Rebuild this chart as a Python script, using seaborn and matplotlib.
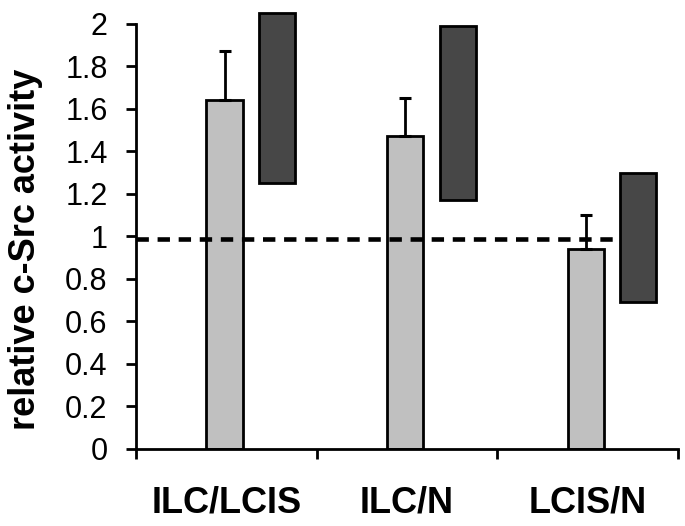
import numpy as np
import pandas as pd
import matplotlib
matplotlib.use("Agg")
import matplotlib.pyplot as plt
import seaborn as sns

# values
categories = ["ILC/LCIS", "ILC/N", "LCIS/N"]
light_mean = [1.64, 1.47, 0.94]
light_err_up = [0.23, 0.18, 0.16]
dark_low = [1.25, 1.17, 0.69]
dark_high = [2.05, 1.99, 1.30]
reference = 0.99
yticks = [0, 0.2, 0.4, 0.6, 0.8, 1, 1.2, 1.4, 1.6, 1.8, 2]

sns.set_theme(style="ticks")
plt.rcParams['font.family'] = ['Liberation Sans', 'DejaVu Sans']

fig, ax = plt.subplots(figsize=(6.85, 5.26), dpi=100)
fig.subplots_adjust(left=0.1985, right=0.9898, bottom=0.1464, top=0.979)

idx = np.arange(len(categories))
light_pos = idx - 0.01
dark_pos = idx + 0.28

light_df = pd.DataFrame({"pos": light_pos, "value": light_mean})
dark_df = pd.DataFrame({"pos": dark_pos,
                        "span": np.array(dark_high) - np.array(dark_low)})

# light bars (mean)
sns.barplot(data=light_df, x="pos", y="value", native_scale=True, orient="x",
            width=0.2, color="#c0c0c0", saturation=1, edgecolor="black",
            linewidth=2, errorbar=None, zorder=1, ax=ax)
ax.errorbar(light_pos, light_mean, yerr=[np.zeros(len(light_mean)), light_err_up],
            fmt="none", ecolor="black", elinewidth=2, capsize=4.6, capthick=2.2,
            zorder=2)

# reference line
ax.plot([-0.5, 2.3], [reference, reference], color="black", lw=3.3,
        dashes=(2.7, 1.9), zorder=3)

# dark floating bars (range)
sns.barplot(data=dark_df, x="pos", y="span", bottom=dark_low, native_scale=True,
            orient="x", width=0.2, color="#474747", saturation=1,
            edgecolor="black", linewidth=2, errorbar=None, zorder=4, ax=ax)

ax.set_xlim(-0.5, 2.5)
ax.set_ylim(0, 2.06)
sns.despine(ax=ax)
ax.spines['left'].set_bounds(0, 2)
for s in ['left', 'bottom']:
    ax.spines[s].set_linewidth(2)
    ax.spines[s].set_color('black')

ax.set_yticks(yticks)
ax.set_yticklabels([f"{t:g}" for t in yticks])
ax.set_xticks(idx)
ax.set_xticklabels(categories, fontsize=26, fontweight="bold")
ax.set_xticks(np.arange(-0.5, 3, 1), minor=True)
ax.tick_params(axis='x', which='major', length=0, pad=26, colors='black')
ax.tick_params(axis='x', which='minor', length=7.5, width=2, direction='out',
               color='black')
ax.tick_params(axis='y', length=7, width=2, labelsize=22, pad=13.5,
               direction='out', colors='black')

ax.set_xlabel("")
ax.set_ylabel("relative c-Src activity", fontsize=26, fontweight="bold",
              va="center", color="black")
ax.yaxis.set_label_coords(-0.203, 0.457)

fig.savefig("out.png", dpi=100)
